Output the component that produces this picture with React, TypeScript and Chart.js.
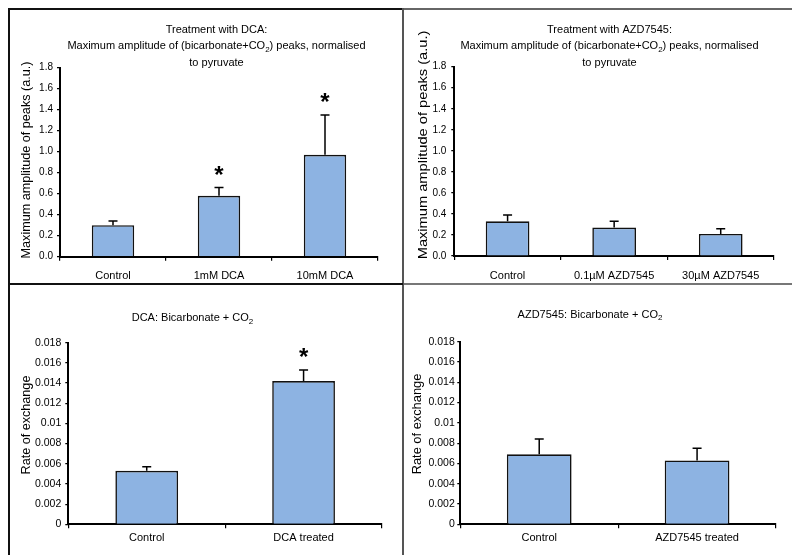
import React, { useEffect, useRef } from 'react';
import { Chart, registerables } from 'chart.js';

Chart.register(...registerables);

// ---------- DATA ----------
const dcaAmpLabels = ['Control', '1mM DCA', '10mM DCA'];
const dcaAmpValues = [0.3, 0.58, 0.97];
const dcaAmpErrors = [0.04, 0.08, 0.38];
const dcaAmpSig = [false, true, true];

const azdAmpLabels = ['Control', '0.1\u00b5M AZD7545', '30\u00b5M AZD7545'];
const azdAmpValues = [0.33, 0.27, 0.21];
const azdAmpErrors = [0.06, 0.06, 0.05];
const azdAmpSig = [false, false, false];

const dcaRateLabels = ['Control', 'DCA treated'];
const dcaRateValues = [0.0053, 0.0142];
const dcaRateErrors = [0.0004, 0.0011];
const dcaRateSig = [false, true];

const azdRateLabels = ['Control', 'AZD7545 treated'];
const azdRateValues = [0.0069, 0.0063];
const azdRateErrors = [0.0015, 0.0012];
const azdRateSig = [false, false];

const ampTicks = [0, 0.2, 0.4, 0.6, 0.8, 1.0, 1.2, 1.4, 1.6, 1.8];
const rateTicks = [0, 0.002, 0.004, 0.006, 0.008, 0.01, 0.012, 0.014, 0.016, 0.018];

const ampYTitle = 'Maximum amplitude of peaks (a.u.)';
const rateYTitle = 'Rate of exchange';

type Seg = { t: string; sub?: boolean };

const dcaAmpTitle: Seg[][] = [
  [{ t: 'Treatment with DCA:' }],
  [{ t: 'Maximum amplitude of (bicarbonate+CO' }, { t: '2', sub: true }, { t: ') peaks, normalised' }],
  [{ t: 'to pyruvate' }],
];
const azdAmpTitle: Seg[][] = [
  [{ t: 'Treatment with AZD7545:' }],
  [{ t: 'Maximum amplitude of (bicarbonate+CO' }, { t: '2', sub: true }, { t: ') peaks, normalised' }],
  [{ t: 'to pyruvate' }],
];
const dcaRateTitle: Seg[][] = [[{ t: 'DCA: Bicarbonate + CO' }, { t: '2', sub: true }]];
const azdRateTitle: Seg[][] = [[{ t: 'AZD7545: Bicarbonate + CO' }, { t: '2', sub: true }]];

const FONT = "'Liberation Sans', Arial, Helvetica, sans-serif";

const fmtAmp = (v: number) => v.toFixed(1);
const fmtRate = (v: number) => String(Number(v.toFixed(4)));

type PanelCfg = {
  left: number; top: number; width: number; height: number;
  labels: string[]; values: number[]; errors: number[]; sig: boolean[];
  ticks: number[]; tickFmt: (v: number) => string; tickFont: number;
  yW: number; xH: number; padTop: number; padRight: number;
  barPct: number; yTickPad: number; xTickPad: number;
  titleLines: Seg[][]; titleX: number; titleY: number[];
  yTitle: string; yTitleX: number; yTitleY: number; yTitleStretch: number;
};

function drawSegLine(ctx: CanvasRenderingContext2D, segs: Seg[], cx: number, cy: number) {
  const main = `11px ${FONT}`;
  const sub = `8px ${FONT}`;
  let total = 0;
  const widths = segs.map((s) => {
    ctx.font = s.sub ? sub : main;
    const w = ctx.measureText(s.t).width;
    total += w;
    return w;
  });
  let x = cx - total / 2;
  ctx.textAlign = 'left';
  ctx.textBaseline = 'middle';
  segs.forEach((s, i) => {
    ctx.font = s.sub ? sub : main;
    ctx.fillText(s.t, x, s.sub ? cy + 3.5 : cy);
    x += widths[i];
  });
}

function makePlugin(cfg: PanelCfg) {
  return {
    id: 'panelDecor',
    afterDatasetsDraw(chart: any) {
      const ctx: CanvasRenderingContext2D = chart.ctx;
      const y = chart.scales.y;
      const meta = chart.getDatasetMeta(0);
      ctx.save();
      ctx.strokeStyle = '#000';
      ctx.lineWidth = 1.5;
      ctx.fillStyle = '#000';
      meta.data.forEach((bar: any, i: number) => {
        const v = cfg.values[i];
        const topPx = y.getPixelForValue(v + cfg.errors[i]);
        const basePx = y.getPixelForValue(v);
        ctx.beginPath();
        ctx.moveTo(bar.x, basePx);
        ctx.lineTo(bar.x, topPx);
        ctx.moveTo(bar.x - 4.5, topPx);
        ctx.lineTo(bar.x + 4.5, topPx);
        ctx.stroke();
        if (cfg.sig[i]) {
          ctx.font = `bold 24px ${FONT}`;
          ctx.textAlign = 'center';
          ctx.textBaseline = 'alphabetic';
          const m = ctx.measureText('*');
          const asc = m.actualBoundingBoxAscent;
          const desc = m.actualBoundingBoxDescent;
          const cy = topPx - 17;
          ctx.fillText('*', bar.x, cy + (asc - desc) / 2);
        }
      });
      ctx.restore();
    },
    afterDraw(chart: any) {
      const ctx: CanvasRenderingContext2D = chart.ctx;
      ctx.save();
      ctx.fillStyle = '#000';
      cfg.titleLines.forEach((line, i) => drawSegLine(ctx, line, cfg.titleX, cfg.titleY[i]));
      ctx.translate(cfg.yTitleX, cfg.yTitleY);
      ctx.rotate(-Math.PI / 2);
      ctx.scale(cfg.yTitleStretch, 1);
      ctx.font = `12px ${FONT}`;
      ctx.textAlign = 'center';
      ctx.textBaseline = 'middle';
      ctx.fillText(cfg.yTitle, 0, 0);
      ctx.restore();
    },
  };
}

function Panel({ cfg }: { cfg: PanelCfg }) {
  const ref = useRef<HTMLCanvasElement | null>(null);
  useEffect(() => {
    if (!ref.current) return;
    const chart = new Chart(ref.current, {
      type: 'bar',
      data: {
        labels: cfg.labels,
        datasets: [
          {
            data: cfg.values,
            backgroundColor: '#8db3e2',
            borderColor: '#111',
            borderWidth: 1.6,
            categoryPercentage: 1,
            barPercentage: cfg.barPct,
          },
        ],
      },
      options: {
        animation: false,
        responsive: false,
        devicePixelRatio: 1,
        layout: { padding: { top: cfg.padTop, right: cfg.padRight, left: 0, bottom: 0 } },
        plugins: { legend: { display: false }, title: { display: false }, tooltip: { enabled: false } },
        scales: {
          x: {
            grid: { display: true, drawOnChartArea: false, drawTicks: true, tickLength: 4, color: '#000', lineWidth: 1.2, offset: true },
            border: { display: true, color: '#000', width: 2 },
            ticks: { color: '#000', font: { family: FONT, size: 11 }, padding: cfg.xTickPad, maxRotation: 0, autoSkip: false },
            afterFit: (s: any) => { s.height = cfg.xH; },
          },
          y: {
            min: cfg.ticks[0],
            max: cfg.ticks[cfg.ticks.length - 1],
            grid: { display: true, drawOnChartArea: false, drawTicks: true, tickLength: 3, color: '#000', lineWidth: 1.2 },
            border: { display: true, color: '#000', width: 2 },
            ticks: {
              color: '#000',
              font: { family: FONT, size: cfg.tickFont },
              padding: cfg.yTickPad,
              autoSkip: false,
              callback: (v: any) => cfg.tickFmt(Number(v)),
            },
            afterBuildTicks: (s: any) => { s.ticks = cfg.ticks.map((v) => ({ value: v })); },
            afterFit: (s: any) => { s.width = cfg.yW; },
          },
        },
      },
      plugins: [makePlugin(cfg)],
    } as any);
    return () => chart.destroy();
  }, [cfg]);
  return (
    <canvas
      ref={ref}
      width={cfg.width}
      height={cfg.height}
      style={{ position: 'absolute', left: cfg.left, top: cfg.top, width: cfg.width, height: cfg.height }}
    />
  );
}

const panels: PanelCfg[] = [
  {
    left: 11, top: 11, width: 391, height: 272,
    labels: dcaAmpLabels, values: dcaAmpValues, errors: dcaAmpErrors, sig: dcaAmpSig,
    ticks: ampTicks, tickFmt: fmtAmp, tickFont: 10,
    yW: 49, xH: 26.3, padTop: 56.7, padRight: 24,
    barPct: 0.4, yTickPad: 4, xTickPad: 9,
    titleLines: dcaAmpTitle, titleX: 205.5, titleY: [18.5, 35, 51.5],
    yTitle: ampYTitle, yTitleX: 16, yTitleY: 149, yTitleStretch: 1.05,
  },
  {
    left: 405, top: 11, width: 385, height: 272,
    labels: azdAmpLabels, values: azdAmpValues, errors: azdAmpErrors, sig: azdAmpSig,
    ticks: ampTicks, tickFmt: fmtAmp, tickFont: 10,
    yW: 49.3, xH: 27, padTop: 55.7, padRight: 16,
    barPct: 0.41, yTickPad: 5, xTickPad: 9,
    titleLines: azdAmpTitle, titleX: 204.5, titleY: [18.5, 35, 51.5],
    yTitle: ampYTitle, yTitleX: 18.5, yTitleY: 134, yTitleStretch: 1.22,
  },
  {
    left: 11, top: 286, width: 391, height: 269,
    labels: dcaRateLabels, values: dcaRateValues, errors: dcaRateErrors, sig: dcaRateSig,
    ticks: rateTicks, tickFmt: fmtRate, tickFont: 10.5,
    yW: 57.3, xH: 30.7, padTop: 56.7, padRight: 20,
    barPct: 0.4, yTickPad: 4, xTickPad: 3,
    titleLines: dcaRateTitle, titleX: 181.5, titleY: [32],
    yTitle: rateYTitle, yTitleX: 16, yTitleY: 139, yTitleStretch: 1.05,
  },
  {
    left: 405, top: 286, width: 385, height: 269,
    labels: azdRateLabels, values: azdRateValues, errors: azdRateErrors, sig: azdRateSig,
    ticks: rateTicks, tickFmt: fmtRate, tickFont: 10.5,
    yW: 55.3, xH: 30.7, padTop: 55.7, padRight: 14,
    barPct: 0.41, yTickPad: 2.5, xTickPad: 3,
    titleLines: azdRateTitle, titleX: 185, titleY: [28.5],
    yTitle: rateYTitle, yTitleX: 12.7, yTitleY: 138, yTitleStretch: 1.07,
  },
];

const line = (l: number, t: number, w: number, h: number, c: string) => (
  <div style={{ position: 'absolute', left: l, top: t, width: w, height: h, background: c }} />
);

export default function App() {
  return (
    <div style={{ position: 'absolute', left: 0, top: 0, width: 792, height: 555, background: '#fff', overflow: 'hidden' }}>
      {panels.map((p, i) => (
        <Panel key={i} cfg={p} />
      ))}
      {line(8, 8, 395, 2, '#111')}
      {line(403, 8, 389, 2, '#666')}
      {line(8, 8, 2, 547, '#111')}
      {line(402, 8, 2, 547, '#555')}
      {line(8, 283, 395, 2, '#111')}
      {line(404, 283, 388, 2, '#777')}
    </div>
  );
}
